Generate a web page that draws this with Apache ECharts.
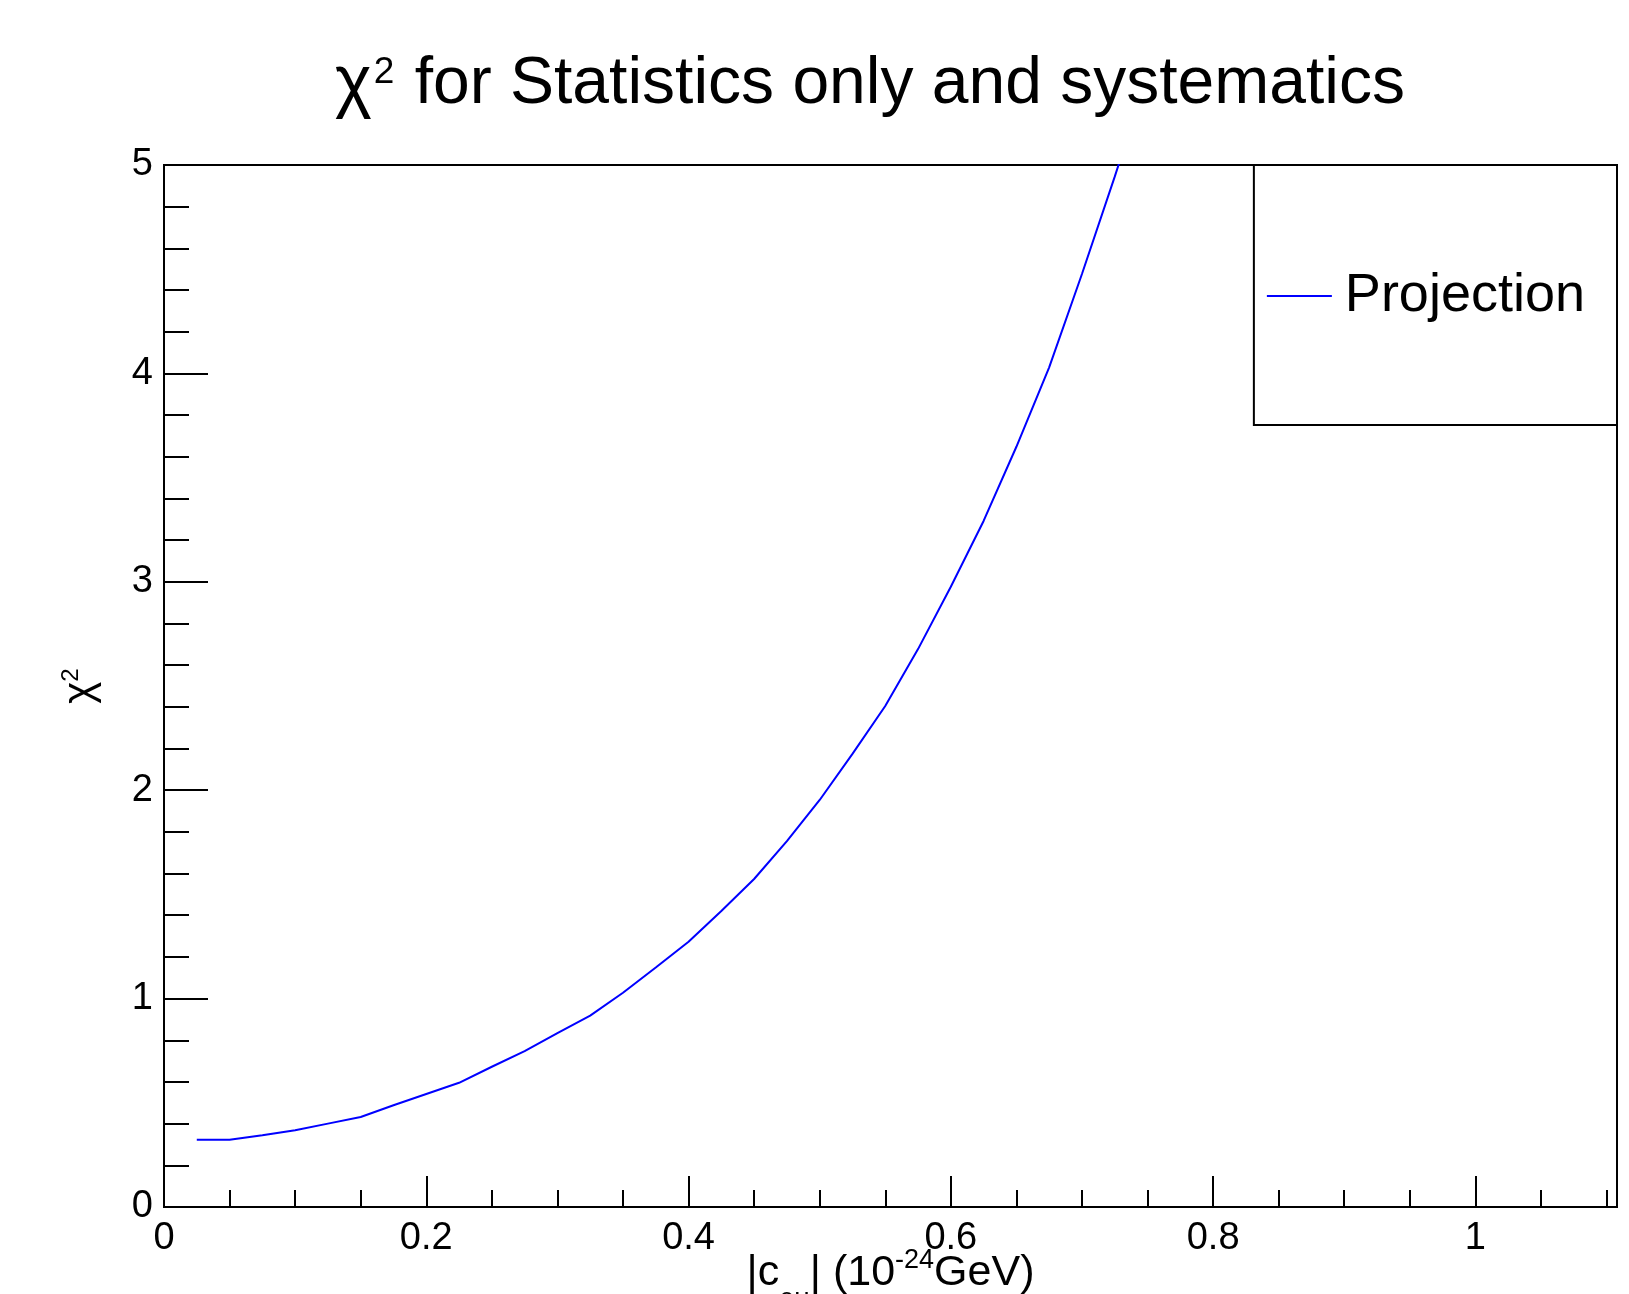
<!DOCTYPE html>
<html>
<head>
<meta charset="utf-8">
<script src="https://cdn.jsdelivr.net/npm/echarts@6/dist/echarts.min.js"></script>
<style>
html,body{margin:0;padding:0;background:#fff;}
#chart{width:1629px;height:1294px;}
</style>
</head>
<body>
<div id="chart"></div>
<script>
// ---- data ----
const cValues = [0.025, 0.05, 0.075, 0.1, 0.125, 0.15, 0.175, 0.2, 0.225, 0.25,
                 0.275, 0.3, 0.325, 0.35, 0.375, 0.4, 0.425, 0.45, 0.475, 0.5,
                 0.525, 0.55, 0.575, 0.6, 0.625, 0.65, 0.675, 0.7, 0.725, 0.75];
const chi2Values = [0.323, 0.323, 0.344, 0.368, 0.400, 0.432, 0.488, 0.542, 0.596, 0.673,
                    0.748, 0.834, 0.918, 1.028, 1.149, 1.273, 1.420, 1.574, 1.756, 1.953,
                    2.174, 2.404, 2.677, 2.976, 3.292, 3.648, 4.029, 4.477, 4.944, 5.43];
const xMajorTicks = [0, 0.2, 0.4, 0.6, 0.8, 1];
const xMinorTicks = [0.05, 0.1, 0.15, 0.25, 0.3, 0.35, 0.45, 0.5, 0.55, 0.65, 0.7, 0.75,
                     0.85, 0.9, 0.95, 1.05, 1.1];
const yTickLabels = [0, 1, 2, 3, 4, 5];
const seriesName = 'Projection';

const FONT = "'Liberation Sans', Arial, Helvetica, sans-serif";
const xMin = 0, xMax = 1.108;

const chart = echarts.init(document.getElementById('chart'), null, {renderer: 'canvas'});

const option = {
  backgroundColor: '#ffffff',
  animation: false,
  title: {
    text: '{c|χ}{s|2}{t| for Statistics only and systematics}',
    left: 335,
    top: 45,
    padding: 0,
    textStyle: {
      fontWeight: 'normal',
      rich: {
        c: {fontFamily: FONT, fontWeight: 'normal', fontSize: 70, lineHeight: 80, color: '#000'},
        s: {fontFamily: FONT, fontWeight: 'normal', fontSize: 37, verticalAlign: 'top', padding: [9, 2, 0, 2], color: '#000'},
        t: {fontFamily: FONT, fontWeight: 'normal', fontSize: 66, lineHeight: 80, color: '#000'}
      }
    }
  },
  legend: {
    data: [{name: seriesName, icon: 'rect'}],
    right: 12,
    top: 165,
    orient: 'vertical',
    padding: [104, 32, 102, 13],
    borderColor: '#000',
    borderWidth: 2,
    backgroundColor: '#fff',
    itemWidth: 65,
    itemHeight: 2,
    selectedMode: false,
    itemStyle: {color: '#0000ff', borderWidth: 0},
    textStyle: {fontFamily: FONT, fontSize: 54, lineHeight: 54, color: '#000', padding: [0, 0, 0, 8]}
  },
  grid: {
    left: 164, top: 165, width: 1453, height: 1042,
    show: true, borderColor: '#000', borderWidth: 2,
    backgroundColor: 'transparent',
    containLabel: false,
    outerBoundsMode: 'none'
  },
  xAxis: [
    {
      type: 'value', min: xMin, max: xMax, position: 'bottom',
      name: '{t||c}{sub|eμ}{t|| (10}{sup|-24}{t|GeV)}',
      nameLocation: 'middle',
      nameGap: 26,
      nameMoveOverlap: false,
      nameTextStyle: {
        rich: {
          t: {fontFamily: FONT, fontSize: 43, lineHeight: 80, color: '#000'},
          sub: {fontFamily: FONT, fontSize: 27, lineHeight: 43, verticalAlign: 'bottom', color: '#000'},
          sup: {fontFamily: FONT, fontSize: 27, verticalAlign: 'top', padding: [14, 0, 0, 0], color: '#000'}
        }
      },
      axisLine: {show: true, onZero: false, lineStyle: {color: '#000', width: 2}},
      axisTick: {show: true, inside: true, length: 31, customValues: xMajorTicks,
                 lineStyle: {color: '#000', width: 2}},
      axisLabel: {show: true, customValues: xMajorTicks, margin: 13,
                  fontFamily: FONT, fontSize: 38, color: '#000'},
      splitLine: {show: false}
    },
    {
      type: 'value', min: xMin, max: xMax, position: 'bottom',
      axisLine: {show: false},
      axisTick: {show: true, inside: true, length: 17, customValues: xMinorTicks,
                 lineStyle: {color: '#000', width: 2}},
      axisLabel: {show: false},
      splitLine: {show: false}
    }
  ],
  yAxis: {
    type: 'value', min: yTickLabels[0], max: yTickLabels[yTickLabels.length - 1], interval: 1,
    name: '{c|χ}{s|2}',
    nameLocation: 'middle',
    nameGap: 54,
    nameMoveOverlap: false,
    nameTextStyle: {
      rich: {
        c: {fontFamily: FONT, fontSize: 42, lineHeight: 60, color: '#000'},
        s: {fontFamily: FONT, fontSize: 24, verticalAlign: 'top', padding: [9, 0, 0, 0], color: '#000'}
      }
    },
    axisLine: {show: true, onZero: false, lineStyle: {color: '#000', width: 2}},
    axisTick: {show: true, inside: true, length: 44, lineStyle: {color: '#000', width: 2}},
    minorTick: {show: true, splitNumber: 5, length: 25, lineStyle: {color: '#000', width: 2}},
    axisLabel: {show: true, margin: 11, padding: [5, 0, 0, 0], fontFamily: FONT, fontSize: 38, color: '#000'},
    splitLine: {show: false}
  },
  series: [{
    name: seriesName,
    type: 'line',
    xAxisIndex: 0,
    data: cValues.map((c, i) => [c, chi2Values[i]]),
    symbol: 'none',
    showSymbol: false,
    clip: true,
    itemStyle: {color: '#0000ff'},
    lineStyle: {color: '#0000ff', width: 2}
  }]
};

chart.setOption(option);
</script>
</body>
</html>
